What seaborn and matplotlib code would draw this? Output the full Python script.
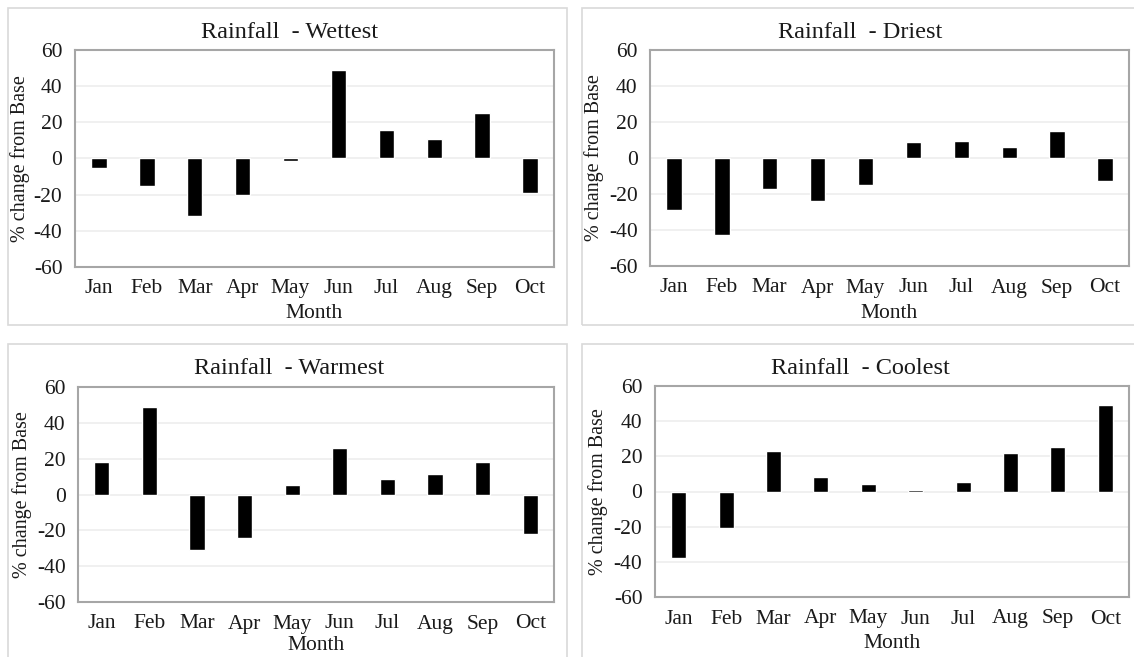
import matplotlib
matplotlib.use("Agg")
import matplotlib.pyplot as plt
from matplotlib.patches import Rectangle
import pandas as pd
import seaborn as sns

months = ["Jan", "Feb", "Mar", "Apr", "May", "Jun", "Jul", "Aug", "Sep", "Oct"]

wettest = [-5, -15, -32, -20, -1.5, 49, 16, 11, 25, -19]
driest = [-29, -43, -17, -24, -15, 9, 9.5, 6, 15, -13]
warmest = [18, 49, -31, -24, 5.5, 26, 8.5, 11.5, 18, -22]
coolest = [-38, -21, 23, 8, 4, 1, 5.5, 22, 25.5, 49]

titles = ["Rainfall  - Wettest", "Rainfall  - Driest", "Rainfall  - Warmest", "Rainfall  - Coolest"]
yticks = [-60, -40, -20, 0, 20, 40, 60]

sns.set_theme(style="white")
plt.rcParams["font.family"] = ["Liberation Serif", "DejaVu Serif"]

W, H = 1134, 657
fig = plt.figure(figsize=(W / 100, H / 100), dpi=100)
fig.patch.set_facecolor("white")

TXT = "#1a1a1a"


def fx(x):
    return x / W


def fy(y):
    return 1 - y / H


# (panel border box), (axes box), title y, month label y, y-label x
layout = [
    dict(panel=(8, 8, 567, 325), axes=(75, 50, 554, 267), title_y=32, xlab_y=313, ylab_x=20),
    dict(panel=(582, 8, 1140, 325), axes=(650, 50, 1129, 266), title_y=32, xlab_y=313, ylab_x=594),
    dict(panel=(8, 344, 567, 665), axes=(78, 387, 554, 602), title_y=369, xlab_y=645, ylab_x=22),
    dict(panel=(582, 344, 1140, 665), axes=(655, 386, 1129, 597), title_y=368, xlab_y=644, ylab_x=598),
]

series = [wettest, driest, warmest, coolest]

for vals, title, lay in zip(series, titles, layout):
    px0, py0, px1, py1 = lay["panel"]
    fig.patches.append(Rectangle((fx(px0), fy(py1)), fx(px1 - px0), (py1 - py0) / H,
                                 transform=fig.transFigure, fill=False,
                                 edgecolor="#d9d9d9", linewidth=1.2, zorder=0))
    ax0, ay0, ax1, ay1 = lay["axes"]
    ax = fig.add_axes([fx(ax0), fy(ay1), fx(ax1 - ax0), (ay1 - ay0) / H])
    df = pd.DataFrame({"Month": months, "Change": vals})
    sns.barplot(data=df, x="Month", y="Change", color="black", width=0.32,
                saturation=1, ax=ax, zorder=3)
    ax.set_ylim(-60, 60)
    ax.set_xlim(-0.5, len(months) - 0.5)
    ax.set_yticks(yticks)
    ax.set_yticklabels([str(t) for t in yticks])
    for t in yticks[1:-1]:
        ax.axhline(t, color="#eeeeee", linewidth=1.2, zorder=1)
    for s in ax.spines.values():
        s.set_color("#a6a6a6")
        s.set_linewidth(1.5)
    ax.tick_params(axis="both", length=0, labelsize=15.5, colors=TXT, pad=9)
    ax.tick_params(axis="y", pad=9)
    ax.set_xlabel("")
    ax.set_ylabel("")
    # titles and axis labels
    fig.text(fx((px0 + min(px1, 1134)) / 2 + 2), fy(lay["title_y"]), title,
             ha="center", va="center", fontsize=17.5, color=TXT)
    fig.text(fx((ax0 + ax1) / 2), fy(lay["xlab_y"]), "Month",
             ha="center", va="center", fontsize=15.5, color=TXT)
    fig.text(fx(lay["ylab_x"]), fy((ay0 + ay1) / 2), "% change from Base",
             ha="center", va="center", rotation=90, fontsize=14.5, color=TXT)

fig.savefig("out.png", dpi=100, facecolor="white")
